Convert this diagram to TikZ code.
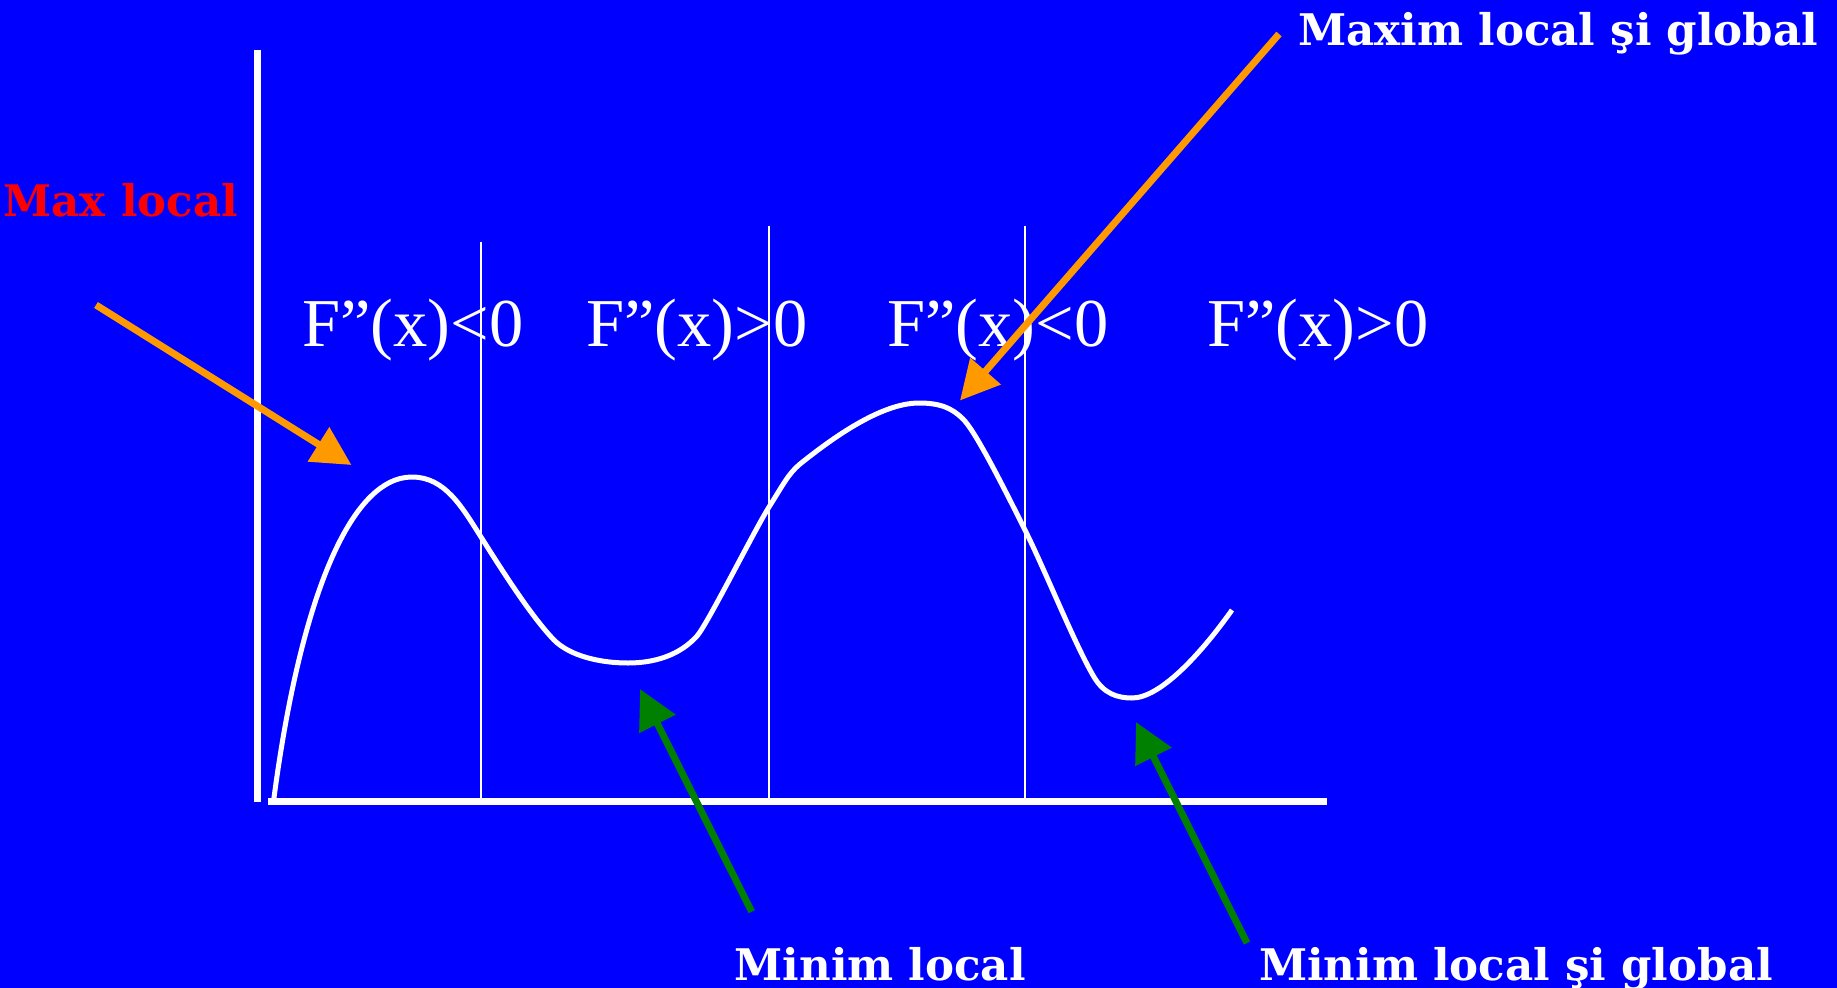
\documentclass[tikz,border=0pt]{standalone}
\usepackage{fontspec}
\setmainfont{Liberation Serif}
\newfontfamily\lblfont{DejaVu Serif}
\usetikzlibrary{arrows.meta}
\definecolor{bgblue}{HTML}{0000FF}
\definecolor{arrorange}{HTML}{FF9900}
\definecolor{arrgreen}{HTML}{008000}
\definecolor{lblred}{HTML}{FF0000}
\begin{document}
\begin{tikzpicture}[x=1pt,y=-1pt,
  axisline/.style={white,line width=7pt},
  divline/.style={white,line width=2pt},
  curveline/.style={white,line width=5pt,line join=round},
  pointer/.style={line width=7pt,-{Triangle[length=39pt,width=39pt]}},
  cond/.style={white,anchor=base west,inner sep=0pt,font=\fontsize{68.5}{72}\selectfont},
  tag/.style={anchor=base west,inner sep=0pt,font=\lblfont\bfseries\fontsize{46}{50}\selectfont}]
\fill[bgblue] (0,0) rectangle (1837,988);
\useasboundingbox (0,0) rectangle (1837,988);
% axes
\coordinate (ytop) at (257,50);
\coordinate (ybot) at (257,802);
\coordinate (xl) at (268,801);
\coordinate (xr) at (1327,801);
\draw[axisline] (ytop) -- (ybot);
\draw[axisline] (xl) -- (xr);
% dividing lines
\coordinate (d1t) at (480.5,242);
\coordinate (d1b) at (480.5,798);
\coordinate (d2t) at (768.6,226);
\coordinate (d2b) at (768.6,798);
\coordinate (d3t) at (1025,226);
\coordinate (d3b) at (1025,798);
\draw[divline] (d1t) -- (d1b);
\draw[divline] (d2t) -- (d2b);
\draw[divline] (d3t) -- (d3b);
% curve
\draw[curveline] (273.7,800)
  .. controls (300,600) and (350,477) .. (412,477)
  .. controls (445,477) and (462,507) .. (481,537)
  .. controls (500,567) and (530,615) .. (554,640)
  .. controls (570,656) and (600,663) .. (628,663)
  .. controls (655,663) and (680,655) .. (697,636)
  .. controls (707,625) and (754,531) .. (769,507)
  .. controls (783,485) and (788,474) .. (800,464)
  .. controls (830,440) and (880,403) .. (919,403)
  .. controls (940,403) and (952,408) .. (963,419)
  .. controls (975,431) and (1000,480) .. (1025,530)
  .. controls (1045,570) and (1075,645) .. (1094,677)
  .. controls (1104,694) and (1118,698) .. (1132,698)
  .. controls (1160,698) and (1200,655) .. (1232,610);
% condition labels
\node[cond] (c1) at (302,346) {F”(x)<0};
\node[cond] (c2) at (586,346) {F”(x)>0};
\node[cond] (c3) at (887,346) {F”(x)<0};
\node[cond] (c4) at (1207,346) {F”(x)>0};
% bold labels
\node[tag,text=lblred] (maxl) at (3.5,216) {\resizebox{234pt}{!}{Max local}};
\node[tag,text=white] (maxg) at (1298,45) {\resizebox{520pt}{!}{Maxim local şi global}};
\node[tag,text=white] (minl) at (734.5,980) {\resizebox{291pt}{!}{Minim local}};
\node[tag,text=white] (ming) at (1259,980) {\resizebox{513.5pt}{!}{Minim local şi global}};
% arrows
\coordinate (a1s) at (96,305);
\coordinate (a1e) at (351.5,465);
\coordinate (a2s) at (1279,34);
\coordinate (a2e) at (960,400.5);
\coordinate (a3s) at (751.7,911.7);
\coordinate (a3e) at (640,689);
\coordinate (a4s) at (1247,943);
\coordinate (a4e) at (1136,722);
\draw[pointer,arrorange] (a1s) -- (a1e);
\draw[pointer,arrorange] (a2s) -- (a2e);
\draw[pointer,arrgreen] (a3s) -- (a3e);
\draw[pointer,arrgreen] (a4s) -- (a4e);
\end{tikzpicture}
\end{document}
